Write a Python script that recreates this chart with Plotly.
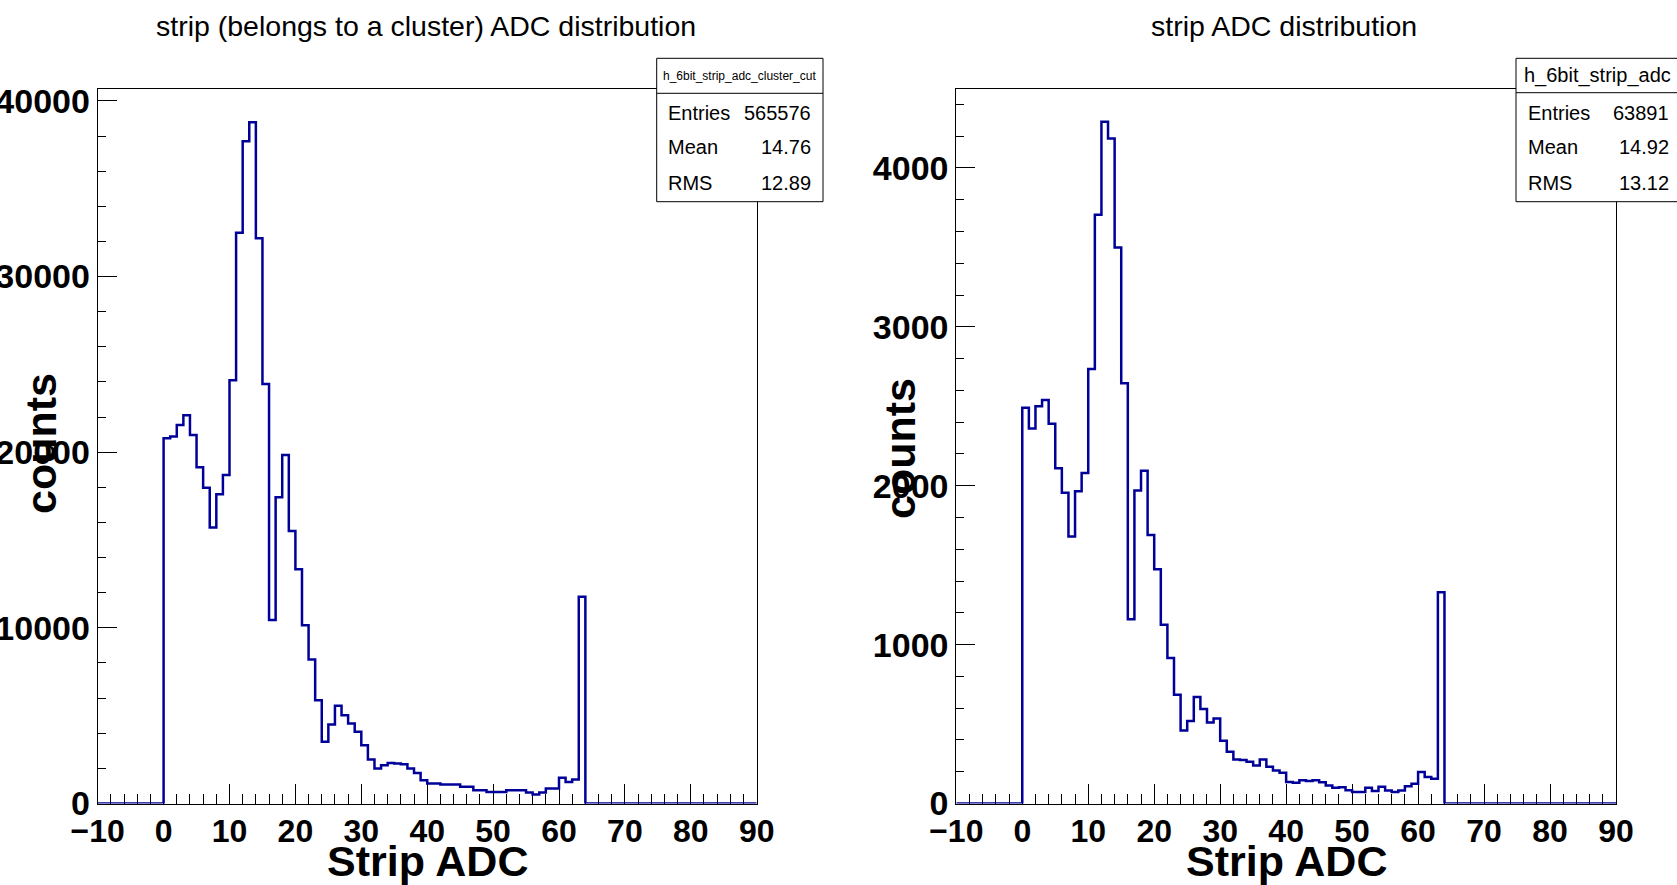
import plotly.graph_objects as go

W, H = 1677, 885

# ---------------- data ----------------
bin_low_edges = list(range(-10, 90))          # 100 bins of width 1, from -10 to 90
adc_bins = list(range(0, 64))                 # filled ADC bins (6-bit)

cluster_cut_counts = [
    20800, 20900, 21550, 22100, 20980, 19150, 17980, 15720, 17600, 18700,
    24100, 32500, 37700, 38780, 32180, 23880, 10440, 17430, 19840, 15520,
    13330, 10150, 8200, 5880, 3510, 4500, 5560, 5030, 4560, 4080,
    3320, 2510, 1990, 2180, 2310, 2280, 2240, 1990, 1740, 1330,
    1140, 1140, 1080, 1080, 1080, 950, 950, 760, 760, 660,
    660, 660, 760, 760, 760, 630, 510, 630, 850, 850,
    1460, 1230, 1370, 11770,
]

all_strip_counts = [
    2490, 2360, 2500, 2540, 2390, 2110, 1955, 1680, 1965, 2080,
    2735, 3705, 4290, 4185, 3500, 2645, 1160, 1970, 2095, 1690,
    1475, 1125, 915, 685, 460, 520, 670, 595, 510, 535,
    395, 325, 277, 273, 262, 239, 277, 231, 208, 193,
    136, 130, 147, 141, 147, 134, 113, 99, 103, 84,
    73, 73, 99, 78, 105, 82, 73, 82, 109, 124,
    199, 166, 155, 1330,
]

titles = ["strip (belongs to a cluster) ADC distribution", "strip ADC distribution"]
hist_names = ["h_6bit_strip_adc_cluster_cut", "h_6bit_strip_adc"]
stat_labels = ["Entries", "Mean", "RMS"]
stats_left = ["565576", "14.76", "12.89"]
stats_right = ["63891", "14.92", "13.12"]
x_title = "Strip ADC"
y_title = "counts"
y_max = [40660, 4495]


def full_hist(counts):
    d = dict(zip(adc_bins, counts))
    return [d.get(b, 0) for b in bin_low_edges]


def px(x):
    return x / W


def py(y):
    return 1 - y / H


LINE = "#000099"
FONT = "Liberation Sans"

fig = go.Figure()
for i, counts in enumerate([cluster_cut_counts, all_strip_counts]):
    vals = full_hist(counts)
    xs = bin_low_edges + [bin_low_edges[-1] + 1]
    ys = vals + [vals[-1]]
    fig.add_trace(go.Scatter(
        x=xs, y=ys, mode="lines", line=dict(shape="hv", color=LINE, width=2.5),
        xaxis="x" if i == 0 else "x2", yaxis="y" if i == 0 else "y2",
        showlegend=False, hoverinfo="skip",
    ))

x_domains = [[px(97.7), px(756.7)], [px(956.3), px(1616)]]
y_domain = [py(803.5), py(89.3)]

xtickfont = dict(family=FONT, size=32, color="black", weight="bold")
ytickfont = dict(family=FONT, size=34, color="black", weight="bold")

for i in range(2):
    xa = dict(
        domain=x_domains[i], range=[-10, 90], anchor="y" if i == 0 else "y2",
        automargin=False,
        showline=True, linecolor="black", linewidth=1, mirror=True,
        showgrid=False, zeroline=False,
        ticks="inside", ticklen=20, tickwidth=1, tickcolor="black",
        tick0=0, dtick=10, tickfont=xtickfont, ticklabelstandoff=-1,
        minor=dict(ticks="inside", ticklen=10, dtick=2, tickcolor="black", tickwidth=1, showgrid=False),
        layer="below traces",
    )
    ya = dict(
        domain=y_domain, range=[0, y_max[i]], anchor="x" if i == 0 else "x2",
        automargin=False,
        showline=True, linecolor="black", linewidth=1, mirror=True,
        showgrid=False, zeroline=False,
        ticks="inside", ticklen=19, tickwidth=1, tickcolor="black",
        tick0=0, dtick=10000 if i == 0 else 1000, tickformat="d",
        tickfont=ytickfont, ticklabelstandoff=0,
        minor=dict(ticks="inside", ticklen=8, dtick=2000 if i == 0 else 200,
                   tickcolor="black", tickwidth=1, showgrid=False),
        layer="below traces",
    )
    if i == 0:
        fig.update_layout(xaxis=xa, yaxis=ya)
    else:
        fig.update_layout(xaxis2=xa, yaxis2=ya)

shapes = []
annotations = []

# titles
for cx, t in zip([426, 1284], titles):
    annotations.append(dict(x=px(cx), y=py(26), xref="paper", yref="paper", text=t,
                            showarrow=False, xanchor="center", yanchor="middle",
                            font=dict(family=FONT, size=28.5, color="black")))

# axis titles
for cx in [427, 1286]:
    annotations.append(dict(x=px(cx), y=py(861), xref="paper", yref="paper", text=x_title,
                            showarrow=False, xanchor="center", yanchor="middle",
                            font=dict(family=FONT, size=43, color="black", weight="bold")))
for cx, cy in [(41, 444), (900, 448)]:
    annotations.append(dict(x=px(cx), y=py(cy), xref="paper", yref="paper", text=y_title,
                            showarrow=False, xanchor="center", yanchor="middle", textangle=-90,
                            font=dict(family=FONT, size=43, color="black", weight="bold")))

# stats boxes
boxes = [
    dict(x0=656.7, x1=823, top=58.3, sep=93.3, bot=201.7, name_size=12,
         lab_x=666, val_x=813.3, vals=stats_left, name=hist_names[0]),
    dict(x0=1516, x1=1678, top=58.3, sep=92.7, bot=201.7, name_size=20,
         lab_x=1526, val_x=1670.7, vals=stats_right, name=hist_names[1]),
]
row_y = [112.5, 147.5, 183.3]
for b in boxes:
    shapes.append(dict(type="rect", xref="paper", yref="paper",
                       x0=px(b["x0"]), x1=px(b["x1"]), y0=py(b["bot"]), y1=py(b["top"]),
                       fillcolor="white", line=dict(color="black", width=1), layer="above"))
    shapes.append(dict(type="line", xref="paper", yref="paper",
                       x0=px(b["x0"]), x1=px(b["x1"]), y0=py(b["sep"]), y1=py(b["sep"]),
                       line=dict(color="black", width=1), layer="above"))
    annotations.append(dict(x=px((b["x0"] + b["x1"]) / 2), y=py(75.5), xref="paper", yref="paper",
                            text=b["name"], showarrow=False, xanchor="center", yanchor="middle",
                            font=dict(family=FONT, size=b["name_size"], color="black")))
    for lab, val, ry in zip(stat_labels, b["vals"], row_y):
        annotations.append(dict(x=px(b["lab_x"]), y=py(ry), xref="paper", yref="paper", text=lab,
                                showarrow=False, xanchor="left", yanchor="middle",
                                font=dict(family=FONT, size=20, color="black")))
        annotations.append(dict(x=px(b["val_x"]), y=py(ry), xref="paper", yref="paper", text=val,
                                showarrow=False, xanchor="right", yanchor="middle",
                                font=dict(family=FONT, size=20, color="black")))

fig.update_layout(
    width=W, height=H, margin=dict(l=0, r=0, t=0, b=0, autoexpand=False),
    paper_bgcolor="white", plot_bgcolor="white",
    shapes=shapes, annotations=annotations, showlegend=False,
)

fig.write_html("out.html")
